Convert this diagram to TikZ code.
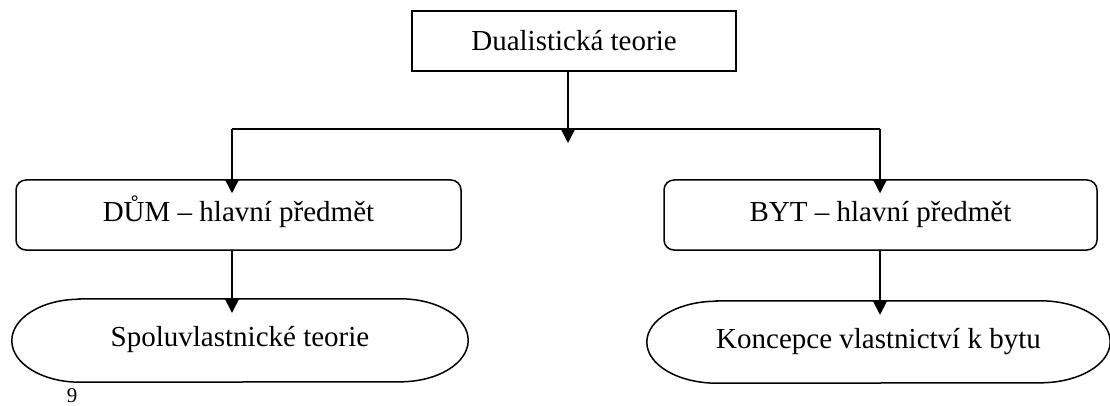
\documentclass[tikz,border=0pt]{standalone}
\usepackage{fontspec}
\setmainfont{Liberation Serif}
\usetikzlibrary{arrows.meta}
\begin{document}
\begin{tikzpicture}[x=1pt,y=-1pt,
  every node/.style={font=\fontsize{29}{32}\selectfont, inner sep=0pt},
  lowtext/.style={text height=19pt, text depth=7pt},
  box/.style={draw, line width=1.5pt, text height=19pt, text depth=0pt},
  rbox/.style={draw, line width=1.5pt, rounded corners=10pt, lowtext},
  term/.style={draw=none, lowtext},
  conn/.style={line width=1.5pt},
  arr/.style={conn, -{Triangle[length=14pt,width=14pt]}, shorten >=-14pt}]
\useasboundingbox (0,0) rectangle (1110,406);
\node[box, minimum width=324pt, minimum height=60pt] (top) at (574,41) {Dualistická teorie};
\node[rbox, minimum width=445pt, minimum height=70pt] (dum) at (238.5,215) {DŮM – hlavní předmět};
\node[rbox, minimum width=433pt, minimum height=70pt] (byt) at (880.5,215) {BYT – hlavní předmět};
\node[term, minimum width=456pt, minimum height=83pt] (spol) at (240,340.5) {Spoluvlastnické teorie};
\node[term, minimum width=463pt, minimum height=82pt] (konc) at (878.5,342) {Koncepce vlastnictví k bytu};
\draw[line width=1.5pt] ([xshift=68pt]spol.north west) -- ([xshift=-68pt]spol.north east)
  arc[start angle=90, end angle=-90, x radius=68pt, y radius=41.5pt]
  -- ([xshift=68pt]spol.south west)
  arc[start angle=270, end angle=90, x radius=68pt, y radius=41.5pt] -- cycle;
\draw[line width=1.5pt] ([xshift=70pt]konc.north west) -- ([xshift=-70pt]konc.north east)
  arc[start angle=90, end angle=-90, x radius=70pt, y radius=41pt]
  -- ([xshift=70pt]konc.south west)
  arc[start angle=270, end angle=90, x radius=70pt, y radius=41pt] -- cycle;
\coordinate (jl) at (232,129);
\coordinate (jm) at (568,129);
\coordinate (jr) at (880,129);
\draw[arr] ([xshift=-6pt]top.south) -- (jm);
\draw[conn] (jl) -- (jr);
\draw[arr] (jl) -- (jl |- dum.north);
\draw[arr] (jr) -- (jr |- byt.north);
\draw[arr] (jl |- dum.south) -- (jl |- spol.north);
\draw[arr] (jr |- byt.south) -- (jr |- konc.north);
\node[font=\fontsize{21}{24}\selectfont, anchor=base] (pg) at (72,402) {9};
\end{tikzpicture}
\end{document}
